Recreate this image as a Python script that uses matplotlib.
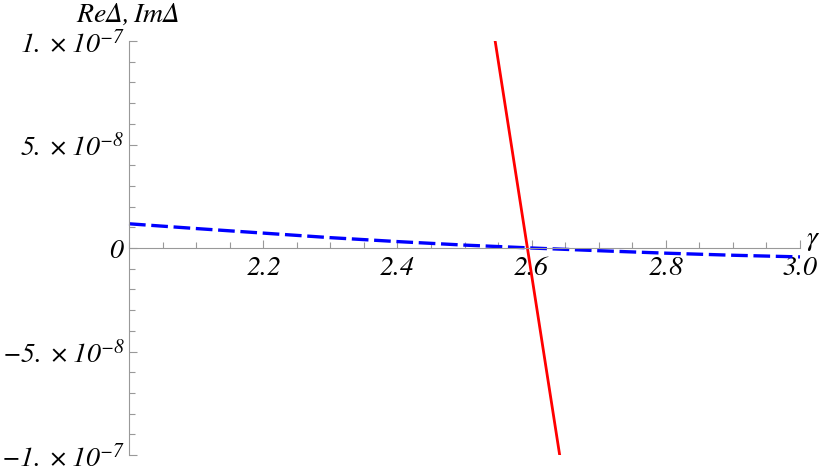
import numpy as np
import matplotlib.pyplot as plt
from matplotlib.ticker import MultipleLocator

# data
gamma_re = [2.50, 2.55, 2.60, 2.65, 2.70]
re_delta = [1.95e-7, 0.91e-7, -0.13e-7, -1.17e-7, -2.21e-7]

gamma_im = [2.0, 2.1, 2.2, 2.3, 2.4, 2.5, 2.6, 2.7, 2.8, 2.9, 3.0]
im_delta = [1.17e-8, 9.4e-9, 7.2e-9, 5.0e-9, 3.1e-9, 1.4e-9, 0.0,
            -1.3e-9, -2.5e-9, -3.5e-9, -4.3e-9]

xticks = [2.2, 2.4, 2.6, 2.8, 3.0]
xticklabels = [r'$2.2$', r'$2.4$', r'$2.6$', r'$2.8$', r'$3.0$']
yticks = [-1e-7, -5e-8, 0, 5e-8, 1e-7]
yticklabels = [r'$-1.\times 10^{-7}$', r'$-5.\times 10^{-8}$', r'$0$',
               r'$5.\times 10^{-8}$', r'$1.\times 10^{-7}$']

plt.rcParams['mathtext.fontset'] = 'custom'
plt.rcParams['mathtext.rm'] = 'STIXGeneral:italic'
plt.rcParams['mathtext.it'] = 'STIXGeneral:italic'
plt.rcParams['mathtext.bf'] = 'STIXGeneral:italic:bold'
plt.rcParams['font.family'] = 'STIXGeneral'

fig = plt.figure(figsize=(8.31, 4.72), dpi=100)
ax = fig.add_axes([129 / 831, 1 - 455 / 472, 671 / 831, 414 / 472])

ax.plot(gamma_im, im_delta, color='#0000ff', lw=2.4, dashes=(5, 1.7), clip_on=False)
ax.plot(gamma_re, re_delta, color='#ff0000', lw=2.0)

ax.set_xlim(2.0, 3.0)
ax.set_ylim(-1e-7, 1e-7)

gray = '#999999'
for s in ['top', 'right']:
    ax.spines[s].set_visible(False)
ax.spines['bottom'].set_position(('data', 0))
ax.spines['bottom'].set_color(gray)
ax.spines['left'].set_color(gray)

ax.set_xticks(xticks)
ax.set_xticklabels(xticklabels, fontsize=20)
ax.xaxis.set_minor_locator(MultipleLocator(0.05))
ax.set_yticks(yticks)
ax.set_yticklabels(yticklabels, fontsize=20)
ax.yaxis.set_minor_locator(MultipleLocator(1e-8))
ax.tick_params(which='both', direction='in', color=gray, width=0.8)
ax.tick_params(which='major', length=6)
ax.tick_params(which='minor', length=4)
ax.tick_params(axis='x', pad=6)
ax.tick_params(axis='y', pad=3)

fig.text(76 / 831, 1 - 15 / 472, r'$Re\Delta,Im\Delta$', fontsize=20,
         ha='left', va='center')
fig.text(806 / 831, 1 - 240 / 472, r'$\gamma$', fontsize=20,
         ha='left', va='center')

fig.savefig('out.png', dpi=100)
